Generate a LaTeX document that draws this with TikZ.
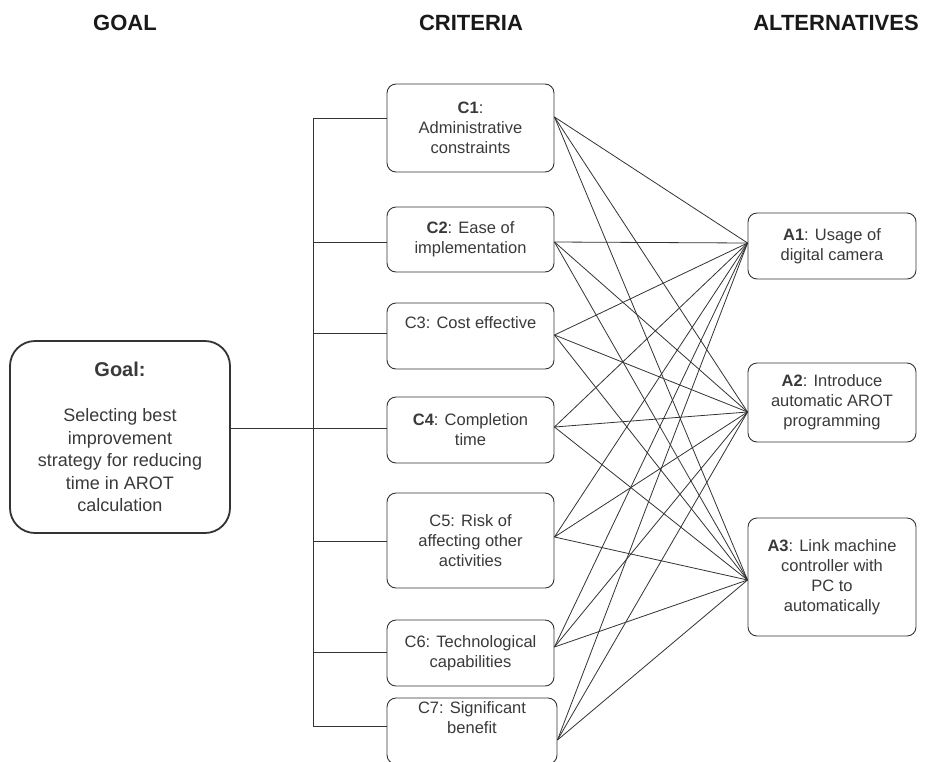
\documentclass[tikz,border=0pt]{standalone}
\usepackage{fontspec}
\setmainfont{Liberation Sans}
\definecolor{ink}{HTML}{333333}
\definecolor{txt}{HTML}{3A3A3A}
\begin{document}
\begin{tikzpicture}[x=1pt,y=-1pt,
  box/.style={draw=ink, line width=0.9pt, rounded corners=9pt, align=center,
    inner sep=0pt, text=txt, font=\fontsize{16.5}{20}\selectfont,
    minimum width=167pt},
  goalbox/.style={draw=ink, line width=1.8pt, rounded corners=25pt, align=center,
    inner sep=0pt, text=txt, font=\fontsize{18}{22.5}\selectfont,
    minimum width=220pt, minimum height=192pt},
  header/.style={font=\fontsize{22}{26}\selectfont\bfseries, text=black!90, anchor=base},
  conn/.style={draw=ink, line width=0.8pt},
  tree/.style={draw=ink, line width=0.9pt}]
\useasboundingbox (0,0) rectangle (928,761);
\fill[white] (0,0) rectangle (928,761);

% headers
\node[header] (hg) at (125,30) {GOAL};
\node[header] (hc) at (471,30) {CRITERIA};
\node[header] (ha) at (836,30) {ALTERNATIVES};

% goal
\node[goalbox] (goal) at (120,437) {{\fontsize{20}{24}\selectfont\bfseries Goal:}\\[22.5pt]Selecting best\\improvement\\strategy for reducing\\time in AROT\\calculation};

% criteria
\node[box, minimum height=88pt] (c1) at (470.5,128) {\textbf{C1}:\\Administrative\\constraints};
\node[box, minimum height=65pt] (c2) at (470.5,239.5) {\textbf{C2}: Ease of\\implementation};
\node[box, minimum height=66pt] (c3) at (470.5,336) {C3: Cost effective\\\strut};
\node[box, minimum height=66pt] (c4) at (470.5,430) {\textbf{C4}: Completion\\time};
\node[box, minimum height=95pt] (c5) at (470.5,540.5) {C5: Risk of\\affecting other\\activities};
\node[box, minimum height=66pt] (c6) at (470.5,653) {C6: Technological\\capabilities};
\node[box, minimum height=66pt, minimum width=170pt] (c7) at (472,731) {C7: Significant\\benefit\\\strut};

% alternatives
\node[box, minimum height=66pt, minimum width=168pt] (a1) at (832,246) {\textbf{A1}: Usage of\\digital camera};
\node[box, minimum height=79pt, minimum width=168pt] (a2) at (832,402.5) {\textbf{A2}: Introduce\\automatic AROT\\programming};
\node[box, minimum height=118pt, minimum width=168pt] (a3) at (832,577) {\textbf{A3}: Link machine\\controller with\\PC to\\automatically};

% tree from goal to criteria
\foreach \i/\y in {1/118,2/242,3/333,4/428,5/541,6/652,7/726}
  \coordinate (b\i) at (313,\y);
\draw[tree] (b1) -- (b7);
\foreach \i in {1,...,7}
  \draw[tree] (b\i) -- (b\i -| c\i.west);
\draw[tree] (goal.east |- b4) -- (b4);

% criteria to alternatives
\foreach \i/\y in {1/117,2/242,3/335,4/427,5/537,6/647,7/740}
  \coordinate (r\i) at (c\i.east |- 0,\y);
\foreach \j/\y in {1/243,2/412,3/580}
  \coordinate (l\j) at (a\j.west |- 0,\y);
\foreach \i in {1,...,7}
  \foreach \j in {1,2,3}
    \draw[conn] (r\i) -- (l\j);
\end{tikzpicture}
\end{document}
